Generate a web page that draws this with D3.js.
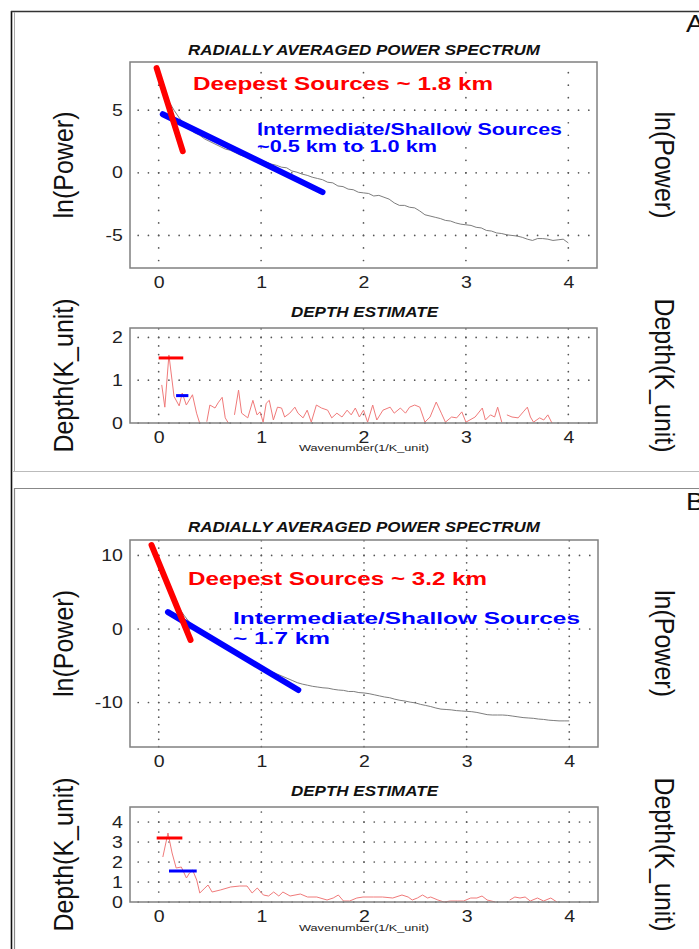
<!DOCTYPE html>
<html>
<head>
<meta charset="utf-8">
<script src="https://cdn.jsdelivr.net/npm/d3@7"></script>
<style>
  html, body { margin: 0; padding: 0; background: #fff; }
  svg { display: block; font-family: "Liberation Sans", Arial, sans-serif; }
</style>
</head>
<body>
<svg id="chart" width="699" height="949"></svg>
<script>
// ---------- data ----------
const kTicks = [0, 1, 2, 3, 4];
const powerTicksA = [-5, 0, 5];
const depthTicksA = [0, 1, 2];
const powerTicksB = [-10, 0, 10];
const depthTicksB = [0, 1, 2, 3, 4];

// radially averaged power spectrum, sampled every 0.05 (1/K_unit)
const specPowerA = [
  7.2, 6.4, 5.7, 5.0, 4.4, 3.9, 3.5, 3.2, 3.0, 2.7,
  2.5, 2.3, 2.1, 1.9, 1.8, 1.6, 1.4, 1.3, 1.1, 1.0,
  0.9, 0.85, 0.7, 0.6, 0.45, 0.4, 0.15, 0.05, -0.1, -0.2,
  -0.35, -0.45, -0.55, -0.75, -0.8, -1.05, -1.1, -1.3, -1.35, -1.55,
  -1.6, -1.65, -1.85, -1.8, -1.95, -2.1, -2.4, -2.6, -2.6, -2.75,
  -2.8, -3.05, -3.35, -3.45, -3.55, -3.65, -3.8, -3.85, -4.0, -4.1,
  -4.15, -4.2, -4.35, -4.4, -4.6, -4.65, -4.8, -4.85, -4.95, -5.0,
  -5.05, -5.15, -5.3, -5.4, -5.25, -5.25, -5.3, -5.4, -5.35, -5.3,
  -5.6
];
const specPowerB = [
  9.8, 7.4, 5.4, 4.0, 2.8, 1.8, 0.9, 0.2, -0.4, -0.9,
  -1.4, -1.8, -2.2, -2.6, -3.0, -3.4, -3.7, -4.1, -4.4, -4.8,
  -5.1, -5.5, -5.8, -6.1, -6.4, -6.7, -7.0, -7.3, -7.5, -7.65,
  -7.8, -7.9, -8.0, -8.05, -8.2, -8.3, -8.35, -8.5, -8.5, -8.65,
  -8.7, -8.8, -8.95, -9.1, -9.25, -9.35, -9.55, -9.7, -9.8, -9.95,
  -10.05, -10.25, -10.4, -10.55, -10.75, -10.9, -10.95, -11.0, -11.1, -11.15,
  -11.2, -11.25, -11.35, -11.5, -11.65, -11.7, -11.7, -11.7, -11.75, -11.85,
  -11.95, -12.05, -12.1, -12.15, -12.25, -12.3, -12.4, -12.45, -12.5, -12.5,
  -12.5
];

// depth estimate curves (null = no estimate)
const depthWaveA = [0.03,0.06,0.10,0.15,0.20,0.23,0.27,0.33,0.37,0.40,0.43,0.47,0.50,0.55,0.58,0.62,0.65,0.68,0.71,
  0.74,0.78,0.81,0.87,0.92,0.96,0.99,1.02,1.05,1.08,1.12,1.16,1.20,1.23,1.28,1.33,1.36,1.41,1.45,1.49,1.54,1.59,
  1.65,1.69,1.74,1.79,1.84,1.88,1.92,1.96,2.00,2.04,2.09,2.13,2.19,2.26,2.30,2.36,2.41,2.45,2.50,2.55,2.60,2.65,
  2.71,2.76,2.80,2.86,2.91,2.96,3.00,3.09,3.16,3.19,3.24,3.28,3.31,3.35,3.37,3.40,3.45,3.51,3.56,3.60,3.63,3.66,
  3.72,3.76,3.80,3.84];
const depthValA = [0.89,0.37,1.59,0.62,0.40,0.70,0.42,0.66,0.23,0.0,null,0.03,0.42,0.35,0.47,0.60,0.12,0.0,null,
  0.19,0.77,0.23,0.12,0.53,0.19,0.26,0.02,0.46,0.53,0.07,0.37,0.35,0.14,0.23,0.37,0.23,0.12,0.30,0.02,0.42,0.35,
  0.30,0.12,0.23,0.14,0.30,0.19,0.35,0.14,0.30,0.02,0.42,0.07,0.30,0.37,0.23,0.35,0.23,0.37,0.42,0.37,0.02,0.14,
  0.49,0.23,0.02,0.14,0.12,0.26,0.02,0.14,0.35,0.07,0.19,0.14,0.37,0.02,null,0.19,0.14,0.12,0.26,0.37,0.14,0.02,
  0.12,0.07,0.19,0.0];

const depthWaveB = [0.04,0.09,0.13,0.17,0.22,0.27,0.30,0.33,0.37,0.40,0.45,0.48,0.52,0.60,0.70,0.79,0.86,0.91,0.96,
  1.02,1.07,1.12,1.17,1.21,1.28,1.38,1.45,1.54,1.64,1.70,1.75,1.80,1.86,1.93,1.99,2.09,2.18,2.28,2.37,2.43,2.47,
  2.52,2.57,2.62,2.65,2.72,2.78,2.84,2.91,2.97,3.04,3.10,3.15,3.20,3.28,3.35,3.42,3.47,3.52,3.57,3.62,3.69,3.75,
  3.82,3.88];
const depthValB = [2.25,3.45,2.45,1.70,1.75,1.20,1.45,1.60,1.10,0.45,0.70,0.85,0.50,0.60,0.75,0.80,0.80,0.45,0.70,
  0.35,0.30,0.50,0.30,0.50,0.30,0.40,0.25,0.25,0.10,0.20,0.35,0.05,0.05,0.20,0.25,0.25,0.25,0.20,0.35,0.25,0.10,
  0.20,0.35,0.20,0.25,0.10,0.00,0.05,0.05,0.05,0.20,0.20,0.30,0.10,0.00,null,0.10,0.25,0.20,0.25,0.05,0.20,0.05,
  0.20,0.00];

// fitted segments on the spectrum
const deepFitKA = [-0.02, 0.235], deepFitPA = [8.36, 1.73];
const shallowFitKA = [0.04, 1.60], shallowFitPA = [4.68, -1.54];
const deepFitKB = [-0.07, 0.31], deepFitPB = [11.4, -1.5];
const shallowFitKB = [0.09, 1.36], shallowFitPB = [2.3, -8.3];

// depth markers on the depth-estimate plot
const deepMarkKA = [0.0, 0.24], deepMarkDA = 1.52;
const shallowMarkKA = [0.17, 0.29], shallowMarkDA = 0.64;
const deepMarkKB = [-0.02, 0.23], deepMarkDB = 3.2;
const shallowMarkKB = [0.10, 0.37], shallowMarkDB = 1.55;

const panelLetters = ["A", "B"];
const deepLabels = ["Deepest Sources ~ 1.8 km", "Deepest Sources ~ 3.2 km"];
const shallowLabels1 = ["Intermediate/Shallow Sources", "Intermediate/Shallow Sources"];
const shallowLabels2 = ["~0.5 km to 1.0 km", "~ 1.7 km"];

// ---------- drawing ----------
const svg = d3.select("#chart");
const RED = "#ff0000", BLUE = "#0000ff";
const waves = d3.range(specPowerA.length).map(i => +(i * 0.05).toFixed(2));
const plainFormat = d => String(d);   // hyphen-minus, as in the original plots

// frames
svg.append("line").attr("x1", 11.5).attr("x2", 11.5).attr("y1", 11).attr("y2", 949)
  .attr("stroke", "#111").attr("stroke-width", 1.6);
svg.append("line").attr("x1", 11).attr("x2", 699).attr("y1", 11.5).attr("y2", 11.5)
  .attr("stroke", "#333").attr("stroke-width", 1.4);
svg.append("line").attr("x1", 14.5).attr("x2", 14.5).attr("y1", 12).attr("y2", 472)
  .attr("stroke", "#aaa").attr("stroke-width", 1);
svg.append("line").attr("x1", 12).attr("x2", 699).attr("y1", 471.5).attr("y2", 471.5)
  .attr("stroke", "#bbb").attr("stroke-width", 1.2);
svg.append("line").attr("x1", 14.5).attr("x2", 699).attr("y1", 488.5).attr("y2", 488.5)
  .attr("stroke", "#888").attr("stroke-width", 1.2);
svg.append("line").attr("x1", 14.5).attr("x2", 14.5).attr("y1", 488).attr("y2", 949)
  .attr("stroke", "#888").attr("stroke-width", 1.2);

function dots(g, x, y, hVals, vStep) {
  const [y0, y1] = y.domain();
  const kk = d3.range(-0.2, 4.2001, 0.1);
  hVals.forEach(v => kk.forEach(k => {
    g.append("circle").attr("cx", x(k)).attr("cy", y(v)).attr("r", 0.85).attr("fill", "#555");
  }));
  const start = Math.ceil(y0 / vStep - 1e-6) * vStep;
  const vv = d3.range(start, y1 + 1e-6, vStep).filter(v => v > y0 + 1e-6);
  kTicks.forEach(k => vv.forEach(v => {
    g.append("circle").attr("cx", x(k)).attr("cy", y(v)).attr("r", 0.85).attr("fill", "#555");
  }));
}

function axes(g, x, y, rect, yTicks) {
  const bx = g.append("g").attr("transform", `translate(0,${rect.y + rect.h})`)
    .call(d3.axisBottom(x).tickValues(kTicks).tickSize(0).tickPadding(9).tickFormat(plainFormat));
  bx.select(".domain").remove();
  bx.selectAll("text").attr("font-size", 16).attr("fill", "#222")
    .attr("font-family", "Liberation Sans, Arial, sans-serif").attr("transform", "scale(1.22,1)");
  const by = g.append("g").attr("transform", `translate(${rect.x},0)`)
    .call(d3.axisLeft(y).tickValues(yTicks).tickSize(0).tickFormat(plainFormat));
  by.select(".domain").remove();
  by.selectAll("text").attr("font-size", 16).attr("fill", "#222").attr("x", -5.8)
    .attr("font-family", "Liberation Sans, Arial, sans-serif").attr("transform", "scale(1.22,1)");
  g.append("rect").attr("x", rect.x).attr("y", rect.y).attr("width", rect.w).attr("height", rect.h)
    .attr("fill", "none").attr("stroke", "#808080").attr("stroke-width", 1.5);
}

function title(g, txt, x, y, len, size) {
  g.append("text").attr("x", x).attr("y", y).attr("font-size", size)
    .attr("font-weight", "bold").attr("font-style", "italic").attr("fill", "#111")
    .attr("textLength", len).attr("lengthAdjust", "spacingAndGlyphs").text(txt);
}

function sideTitles(g, txt, cy) {
  g.append("text").attr("transform", `translate(73,${cy}) rotate(-90) scale(1,1.12)`)
    .attr("text-anchor", "middle").attr("font-size", 25).attr("fill", "#111").text(txt);
  g.append("text").attr("transform", `translate(655,${cy}) rotate(90) scale(1,1.12)`)
    .attr("text-anchor", "middle").attr("font-size", 25).attr("fill", "#111").text(txt);
}

function panel(cfg) {
  const g = svg.append("g");
  const sr = cfg.specRect, dr = cfg.depthRect;
  const x = d3.scaleLinear().domain([-0.28, 4.28]).range([sr.x, sr.x + sr.w]);
  const yS = d3.scaleLinear().domain(cfg.specDomain).range([sr.y + sr.h, sr.y]);
  const yD = d3.scaleLinear().domain(cfg.depthDomain).range([dr.y + dr.h, dr.y]);

  // spectrum plot
  dots(g, x, yS, cfg.powerTicks, 1);
  g.append("path").datum(waves.map((k, i) => [k, cfg.spec[i]]))
    .attr("d", d3.line().x(d => x(d[0])).y(d => yS(d[1])))
    .attr("fill", "none").attr("stroke", "#6e6e6e").attr("stroke-width", 0.9);
  const fit = (ks, ps, col) => g.append("path").datum(ks.map((k, i) => [k, ps[i]]))
    .attr("d", d3.line().x(d => x(d[0])).y(d => yS(d[1])))
    .attr("stroke", col).attr("stroke-width", 6).attr("stroke-linecap", "round").attr("fill", "none");
  fit(cfg.shallowK, cfg.shallowP, BLUE);
  fit(cfg.deepK, cfg.deepP, RED);
  axes(g, x, yS, sr, cfg.powerTicks);

  // depth estimate plot
  dots(g, x, yD, cfg.depthTicks, cfg.depthStep);
  g.append("path").datum(cfg.dWave.map((k, i) => [k, cfg.dVal[i]]))
    .attr("d", d3.line().defined(d => d[1] !== null).x(d => x(d[0])).y(d => yD(d[1])))
    .attr("fill", "none").attr("stroke", "#f07a7a").attr("stroke-width", 1);
  const mark = (ks, dv, col) => g.append("line")
    .attr("x1", x(ks[0])).attr("x2", x(ks[1])).attr("y1", yD(dv)).attr("y2", yD(dv))
    .attr("stroke", col).attr("stroke-width", 3);
  mark(cfg.deepMarkK, cfg.deepMarkD, RED);
  mark(cfg.shallowMarkK, cfg.shallowMarkD, BLUE);
  axes(g, x, yD, dr, cfg.depthTicks);

  // texts
  title(g, "RADIALLY AVERAGED POWER SPECTRUM", 188, cfg.titleY, 352, 14);
  title(g, "DEPTH ESTIMATE", 291, cfg.depthTitleY, 147, 14);
  g.append("text").attr("x", 299).attr("y", cfg.wnY).attr("font-size", 9.5).attr("fill", "#222")
    .attr("textLength", 130).attr("lengthAdjust", "spacingAndGlyphs").text("Wavenumber(1/K_unit)");
  g.append("text").attr("x", cfg.deepLab[0]).attr("y", cfg.deepLab[1]).attr("font-size", 18)
    .attr("font-weight", "bold").attr("fill", RED).attr("textLength", cfg.deepLab[2])
    .attr("lengthAdjust", "spacingAndGlyphs").text(cfg.deepText);
  g.append("text").attr("x", cfg.shLab1[0]).attr("y", cfg.shLab1[1]).attr("font-size", 16.5)
    .attr("font-weight", "bold").attr("fill", BLUE).attr("textLength", cfg.shLab1[2])
    .attr("lengthAdjust", "spacingAndGlyphs").text(cfg.shText1);
  g.append("text").attr("x", cfg.shLab2[0]).attr("y", cfg.shLab2[1]).attr("font-size", 16.5)
    .attr("font-weight", "bold").attr("fill", BLUE).attr("textLength", cfg.shLab2[2])
    .attr("lengthAdjust", "spacingAndGlyphs").text(cfg.shText2);
  sideTitles(g, "ln(Power)", sr.y + sr.h / 2);
  sideTitles(g, "Depth(K_unit)", dr.y + dr.h / 2);
  g.append("text").attr("x", 686).attr("y", cfg.letterY).attr("font-size", 24).attr("fill", "#111")
    .attr("transform", `translate(686,0) scale(1.15,1) translate(-686,0)`).text(cfg.letter);
}

panel({
  letter: panelLetters[0], letterY: 32,
  specRect: { x: 130, y: 62, w: 467, h: 206 }, specDomain: [-7.6, 8.85],
  depthRect: { x: 130, y: 328, w: 467, h: 95 }, depthDomain: [0, 2.22], depthStep: 0.2,
  powerTicks: powerTicksA, depthTicks: depthTicksA,
  spec: specPowerA, dWave: depthWaveA, dVal: depthValA,
  deepK: deepFitKA, deepP: deepFitPA, shallowK: shallowFitKA, shallowP: shallowFitPA,
  deepMarkK: deepMarkKA, deepMarkD: deepMarkDA, shallowMarkK: shallowMarkKA, shallowMarkD: shallowMarkDA,
  titleY: 55, depthTitleY: 317, wnY: 451,
  deepText: deepLabels[0], deepLab: [193, 90, 300],
  shText1: shallowLabels1[0], shLab1: [257, 135, 305],
  shText2: shallowLabels2[0], shLab2: [257, 152, 180]
});

panel({
  letter: panelLetters[1], letterY: 510,
  specRect: { x: 130, y: 540, w: 468, h: 207 }, specDomain: [-16.05, 12.1],
  depthRect: { x: 130, y: 807, w: 468, h: 95 }, depthDomain: [0, 4.75], depthStep: 0.5,
  powerTicks: powerTicksB, depthTicks: depthTicksB,
  spec: specPowerB, dWave: depthWaveB, dVal: depthValB,
  deepK: deepFitKB, deepP: deepFitPB, shallowK: shallowFitKB, shallowP: shallowFitPB,
  deepMarkK: deepMarkKB, deepMarkD: deepMarkDB, shallowMarkK: shallowMarkKB, shallowMarkD: shallowMarkDB,
  titleY: 532, depthTitleY: 796, wnY: 931,
  deepText: deepLabels[1], deepLab: [188, 585, 299],
  shText1: shallowLabels1[1], shLab1: [233, 624, 347],
  shText2: shallowLabels2[1], shLab2: [233, 644, 97]
});
</script>
</body>
</html>
